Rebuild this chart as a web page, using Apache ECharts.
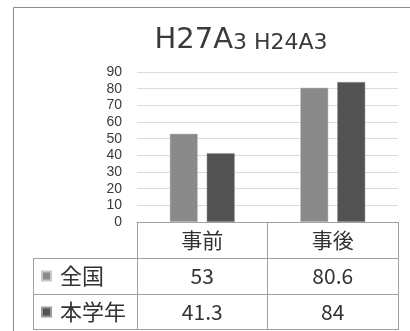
<!DOCTYPE html>
<html><head><meta charset="utf-8">
<script src="https://cdn.jsdelivr.net/npm/echarts@6/dist/echarts.min.js"></script>
<style>html,body{margin:0;padding:0;background:#fff}#c{width:410px;height:331px}</style>
</head><body><div id="c"></div>
<script>
const categories = ['事前', '事後'];
const seriesNames = ['全国', '本学年'];
const zenkoku = [53, 80.6];
const honGakunen = [41.3, 84];
const yTicks = [0, 10, 20, 30, 40, 50, 60, 70, 80, 90];

const JP = '"Noto Sans CJK JP","Noto Sans",sans-serif';
const chart = echarts.init(document.getElementById('c'));
const lineColor = '#a0a0a0';
chart.setOption({
  animation: false,
  backgroundColor: '#fff',
  title: {
    text: '{a|H27A}{b|3 H24A3}',
    left: 236, textAlign: 'center', top: 20,
    textStyle: {
      fontWeight: 'normal',
      rich: {
        a: { fontFamily: '"DejaVu Sans",sans-serif', fontSize: 29, fontWeight: 'normal', color: '#3a3a3a', verticalAlign: 'bottom', lineHeight: 30 },
        b: { fontFamily: '"DejaVu Sans",sans-serif', fontSize: 22, fontWeight: 'normal', color: '#3a3a3a', verticalAlign: 'bottom', lineHeight: 30, padding: [0, 0, 1, 0] }
      }
    }
  },
  legend: {
    orient: 'vertical', left: 41, top: 258, padding: 0, itemGap: 0,
    itemWidth: 9, itemHeight: 9, icon: 'rect',
    data: seriesNames,
    selectedMode: false,
    textStyle: { fontFamily: JP, fontSize: 22, color: '#333', lineHeight: 36, padding: [0, 0, 0, 4] }
  },
  grid: { left: 137, right: 12, top: 72, bottom: 109 },
  xAxis: {
    type: 'category', data: categories,
    axisLine: { lineStyle: { color: lineColor, width: 1 } },
    axisTick: { show: true, length: 108, lineStyle: { color: lineColor } },
    axisLabel: {
      margin: 0, fontFamily: JP, fontSize: 21, color: '#333', lineHeight: 36,
      formatter: function (v, i) { return v + '\n' + zenkoku[i] + '\n' + honGakunen[i]; }
    }
  },
  yAxis: {
    type: 'value', min: yTicks[0], max: yTicks[yTicks.length - 1], interval: 10,
    axisLine: { show: false }, axisTick: { show: false },
    axisLabel: { margin: 15, fontFamily: '"Liberation Sans",Arial,sans-serif', fontSize: 14, color: '#3a3a3a' },
    splitLine: { lineStyle: { color: '#dcdcdc' } }
  },
  series: [
    { name: seriesNames[0], type: 'bar', data: zenkoku, barWidth: 28, barGap: '32%',
      itemStyle: { color: '#8a8a8a', borderColor: '#c8c8c8', borderWidth: 0.5 } },
    { name: seriesNames[1], type: 'bar', data: honGakunen, barWidth: 28, barGap: '32%',
      itemStyle: { color: '#535353', borderColor: '#9a9a9a', borderWidth: 0.5 } }
  ],
  graphic: [
    { type: 'rect', shape: { x: 13.5, y: 7.5, width: 420, height: 340 }, style: { fill: 'none', stroke: '#8c8c8c', lineWidth: 1 }, silent: true },
    { type: 'line', shape: { x1: 33, y1: 258.5, x2: 398, y2: 258.5 }, style: { stroke: lineColor, lineWidth: 1 }, silent: true },
    { type: 'line', shape: { x1: 33, y1: 294.5, x2: 398, y2: 294.5 }, style: { stroke: lineColor, lineWidth: 1 }, silent: true },
    { type: 'line', shape: { x1: 33, y1: 329.5, x2: 398, y2: 329.5 }, style: { stroke: lineColor, lineWidth: 1 }, silent: true },
    { type: 'line', shape: { x1: 33.5, y1: 258, x2: 33.5, y2: 330 }, style: { stroke: lineColor, lineWidth: 1 }, silent: true }
  ]
});
</script></body></html>
